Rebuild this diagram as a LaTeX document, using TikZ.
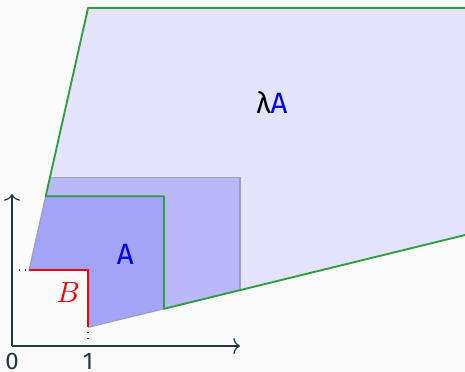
\documentclass[tikz,border=0pt]{standalone}
\usepackage{fontspec}
\setmainfont{Fira Sans}
\usetikzlibrary{arrows.meta}
\definecolor{bgcol}{HTML}{FAFAFA}
\definecolor{axiscol}{HTML}{23373B}
\definecolor{lightfill}{HTML}{E3E3FD}
\definecolor{midfill}{HTML}{B8B8FB}
\definecolor{darkfill}{HTML}{A3A3F8}
\definecolor{edgegreen}{HTML}{2E9E3E}
\definecolor{edgegray}{HTML}{A0A0B4}

\begin{document}
\begin{tikzpicture}[
        axis/.style={draw=axiscol, line width=0.45pt, -{To[length=2.5pt,width=6pt]}},
        guide/.style={draw=axiscol, dotted, line width=0.45pt},
        bound/.style={draw=edgegreen, line width=0.7pt, line join=round},
        rim/.style={draw=edgegray, line width=0.45pt},
        lbl/.style={inner sep=0pt, font=\fontsize{11}{13}\selectfont},
        tick/.style={inner sep=0pt, font=\fontsize{9}{11}\selectfont, text=axiscol},
    ]

    % Frame
    \def\ra{0.225} % slope of the left ray (x per y)
    \def\rb{0.245} % slope of the lower ray (y per x)
    \def\lt{4.45}  % top of the scaled set
    \def\mt{2.22}  % top of the middle band
    \fill[bgcol] (-0.158,-0.342) rectangle (5.961,4.553);
    \useasboundingbox (-0.158,-0.342) rectangle (5.961,4.553);
    \clip (-0.158,-0.342) rectangle (5.961,4.553);

    % Corner points
    \coordinate (B1) at (\ra,1);
    \coordinate (B2) at (1,1);
    \coordinate (B3) at (1,\rb);
    \coordinate (A1) at ({1.97*\ra},1.97);
    \coordinate (A2) at (2,1.97);
    \coordinate (A3) at (2,{2*\rb});
    \coordinate (M1) at ({\mt*\ra},\mt);
    \coordinate (M2) at (3,\mt);
    \coordinate (M3) at (3,{3*\rb});
    \coordinate (L1) at ({\lt*\ra},\lt);
    \coordinate (L2) at (6.5,\lt);
    \coordinate (L3) at (6.5,{6.5*\rb});

    % Scaled set
    \fill[lightfill] (A1) -- (L1) -- (L2) -- (L3) -- (A3) -- (A2) -- cycle;

    % Middle band
    \fill[midfill] (A1) -- (M1) -- (M2) -- (M3) -- (A3) -- (A2) -- cycle;
    \draw[rim] (M1) -- (M2) -- (M3);

    % Set A
    \fill[darkfill] (B1) -- (A1) -- (A2) -- (A3) -- (B3) -- (B2) -- cycle;
    \draw[rim] (B1) -- (A1);
    \draw[rim] (B3) -- (A3);
    \draw[bound] (L3) -- (A3) -- (A2) -- (A1) -- (L1) -- (L2);

    % Set B
    \draw[red, line width=0.6pt] (B1) -- (B2) -- (B3);

    % Axes
    \coordinate (O) at (0,0);
    \coordinate (Y1) at (0,1);
    \coordinate (X1) at (1,0);
    \draw[axis] (O) -- (3,0);
    \draw[axis] (O) -- (0,2);
    \draw[guide] (Y1) -- (B1);
    \draw[guide] (X1) -- (B3);
    \node[tick] (t0) at (0,-0.2) {0};
    \node[tick] (t1) at (1,-0.2) {1};

    % Labels
    \node[lbl, text=blue] (labA) at (1.49,1.20) {A};
    \node[lbl] (labLA) at (3.42,3.20) {λ\textcolor{blue}{A}};
    \node[lbl, text=red] (labB) at (0.74,0.71) {$B$};
\end{tikzpicture}
\end{document}
